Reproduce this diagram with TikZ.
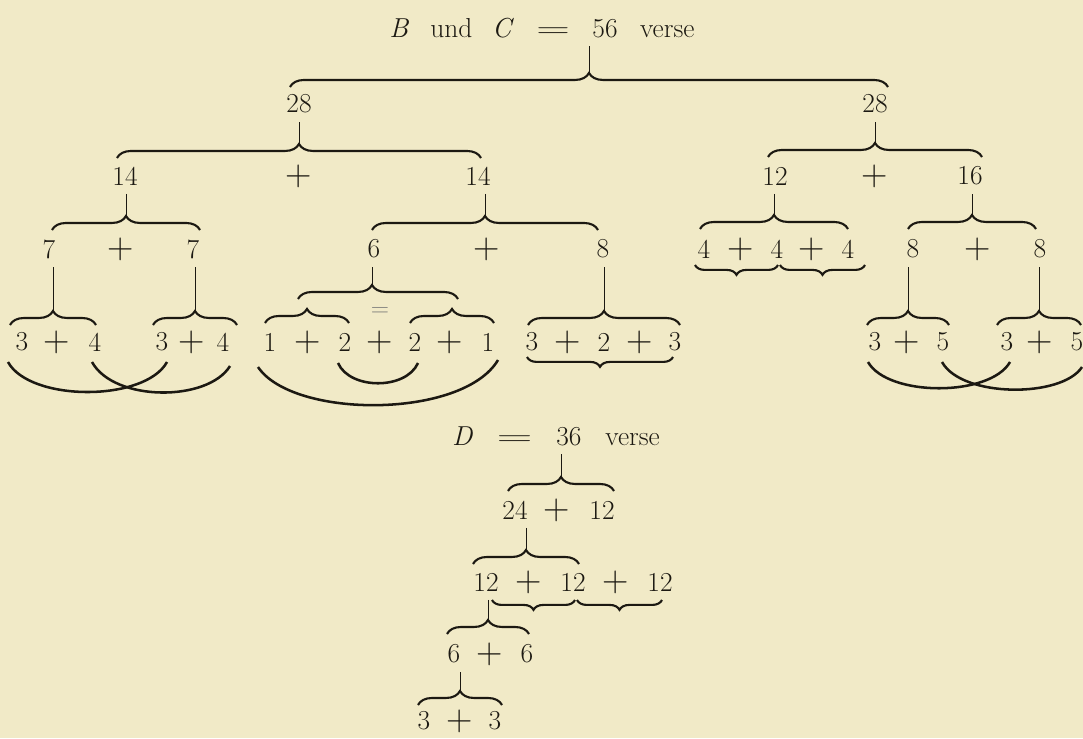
\documentclass[tikz,border=0pt]{standalone}
\usepackage{graphicx}
\definecolor{paper}{RGB}{241,234,199}
\definecolor{ink}{RGB}{28,25,18}
\usetikzlibrary{decorations.pathreplacing}

\begin{document}
\begin{tikzpicture}[
  x=0.025cm, y=-0.025cm,
  every node/.style={inner sep=0pt, text=ink},
  num/.style={font=\fontsize{19.5}{22}\selectfont},
  opsign/.style={font=\fontsize{26}{28}\selectfont},
  stem/.style={draw=ink, line width=0.7pt, shorten <=6pt},
  ovbrace/.style={draw=ink, line width=1.5pt, decorate,
                  decoration={brace, amplitude=10pt}},
  unbrace/.style={draw=ink, line width=1.5pt, decorate,
                  decoration={brace, mirror, amplitude=7pt}},
  arcline/.style={draw=ink, line width=1.8pt},
]
  \useasboundingbox[fill=paper] (0,0) rectangle (1083,738);

  % Titles
  \node[num, anchor=base] (tBC) at (542,37)
    {\textit{B}\hspace{15pt}und\hspace{14pt}\textit{C}\hspace{16pt}\scalebox{1.7}[1]{=}\hspace{16pt}56\hspace{16pt}verse};
  \node[num, anchor=base] (tD) at (556,445)
    {\textit{D}\hspace{17pt}\scalebox{1.8}[1]{=}\hspace{17pt}36\hspace{17pt}verse};

  % Numbers
  \foreach \nm/\xx/\yy/\lbl in {
      n28l/299/104/28, n28r/875/104/28,
      n14l/125/176/14, n14r/478/176/14, n12/775/176/12, n16/970/176/16,
      n7l/49/249/7, n7r/193/249/7, n6/374/249/6, n8/603/249/8,
      n4a/704/249/4, n4b/777/249/4, n4c/848/249/4,
      n8l/913/249/8, n8r/1040/249/8,
      a3/22/342/3, a4/95/342/4, b3/162/342/3, b4/223/342/4,
      c1/270/342/1, c2/345/342/2, c3/415/342/2, c4/488/342/1,
      d3/532/342/3, d2/604/342/2, d5/675/342/3,
      e3/875/342/3, e5/943/342/5, f3/1007/342/3, f5/1077/342/5,
      r24/515/510/24, r12/602/510/12,
      s12a/486/582/12, s12b/573/582/12, s12c/660/582/12,
      t6a/454/654/6, t6b/527/654/6,
      u3a/424/721/3, u3b/495/721/3}
    \node[num] (\nm) at (\xx,\yy) {\lbl};

  % Plus signs
  \foreach \xx/\yy [count=\i] in {
      299/176, 875/176,
      121/249, 487/249, 741/249, 812/249, 978/249,
      57/342, 192/342, 308/342, 380/342, 450/342, 568/342, 640/342,
      907/342, 1040/342,
      557/510, 529/582, 616/582, 490/654, 460/721}
    \node[opsign] (plus\i) at (\xx,\yy) {+};
  \node[font=\fontsize{18}{20}\selectfont, text=ink!55] (eqs) at (380,312) {=};

  % Brace tips
  \coordinate (kTop) at (589,73);
  \coordinate (k28l) at (299,144);
  \coordinate (k28r) at (875,143);
  \coordinate (k14l) at (126,216);
  \coordinate (k14r) at (485,216);
  \coordinate (k12) at (774,215);
  \coordinate (k16) at (972,215);
  \coordinate (k7l) at (53,311);
  \coordinate (k7r) at (195,311);
  \coordinate (k6) at (372,285);
  \coordinate (k8) at (604,311);
  \coordinate (k8l) at (908,311);
  \coordinate (k8r) at (1039,311);
  \coordinate (kD) at (561,477);
  \coordinate (k24) at (526,550);
  \coordinate (k12d) at (488,620);
  \coordinate (k6d) at (460,693);

  % Stems
  \foreach \nm/\kk in {tBC/kTop, n28l/k28l, n28r/k28r, n14l/k14l, n14r/k14r,
      n12/k12, n16/k16, n7l/k7l, n7r/k7r, n6/k6, n8/k8, n8l/k8l, n8r/k8r,
      tD/kD, r24/k24, s12a/k12d, t6a/k6d}
    \draw[stem] (\nm.south -| \kk) -- (\kk);

  % Over braces
  \draw[ovbrace] (290,87) -- (888,87);
  \draw[ovbrace] (117,158) -- (481,158);
  \draw[ovbrace] (768,157) -- (982,157);
  \draw[ovbrace] (52,230) -- (200,230);
  \draw[ovbrace] (372,230) -- (598,230);
  \draw[ovbrace] (700,229) -- (848,229);
  \draw[ovbrace] (908,229) -- (1036,229);
  \draw[ovbrace] (10,325) -- (96,325);
  \draw[ovbrace] (153,325) -- (237,325);
  \draw[ovbrace, decoration={aspect=0.4625}] (298,299) -- (458,299);
  \draw[ovbrace] (265,323) -- (349,323);
  \draw[ovbrace] (410,323) -- (494,323);
  \draw[ovbrace] (528,325) -- (680,325);
  \draw[ovbrace] (867,325) -- (949,325);
  \draw[ovbrace] (997,325) -- (1081,325);
  \draw[ovbrace] (508,491) -- (614,491);
  \draw[ovbrace] (473,564) -- (579,564);
  \draw[ovbrace] (447,634) -- (529,634);
  \draw[ovbrace] (418,705) -- (502,705);

  % Under braces
  \draw[unbrace] (695,265) -- (778,265);
  \draw[unbrace] (780,265) -- (865,265);
  \draw[unbrace] (527,357) -- (673,357);
  \draw[unbrace] (492,600) -- (575,600);
  \draw[unbrace] (577,600) -- (662,600);

  % Arcs
  \draw[arcline] ([shift={(-14,20)}]a3.center) .. controls +(22,40) and +(-22,40) .. ([shift={(5,20)}]b3.center);
  \draw[arcline] ([shift={(-3,20)}]a4.center) .. controls +(22,40) and +(-22,36) .. ([shift={(7,24)}]b4.center);
  \draw[arcline] ([shift={(-7,21)}]c2.center) .. controls +(12,27) and +(-12,27) .. ([shift={(3,21)}]c3.center);
  \draw[arcline] ([shift={(-12,25)}]c1.center) .. controls +(35,52) and +(-35,59) .. ([shift={(10,18)}]c4.center);
  \draw[arcline] ([shift={(-7,20)}]e3.center) .. controls +(20,35) and +(-20,35) .. ([shift={(3,20)}]f3.center);
  \draw[arcline] ([shift={(-1,20)}]e5.center) .. controls +(20,36) and +(-20,31) .. ([shift={(5,25)}]f5.center);
\end{tikzpicture}
\end{document}
